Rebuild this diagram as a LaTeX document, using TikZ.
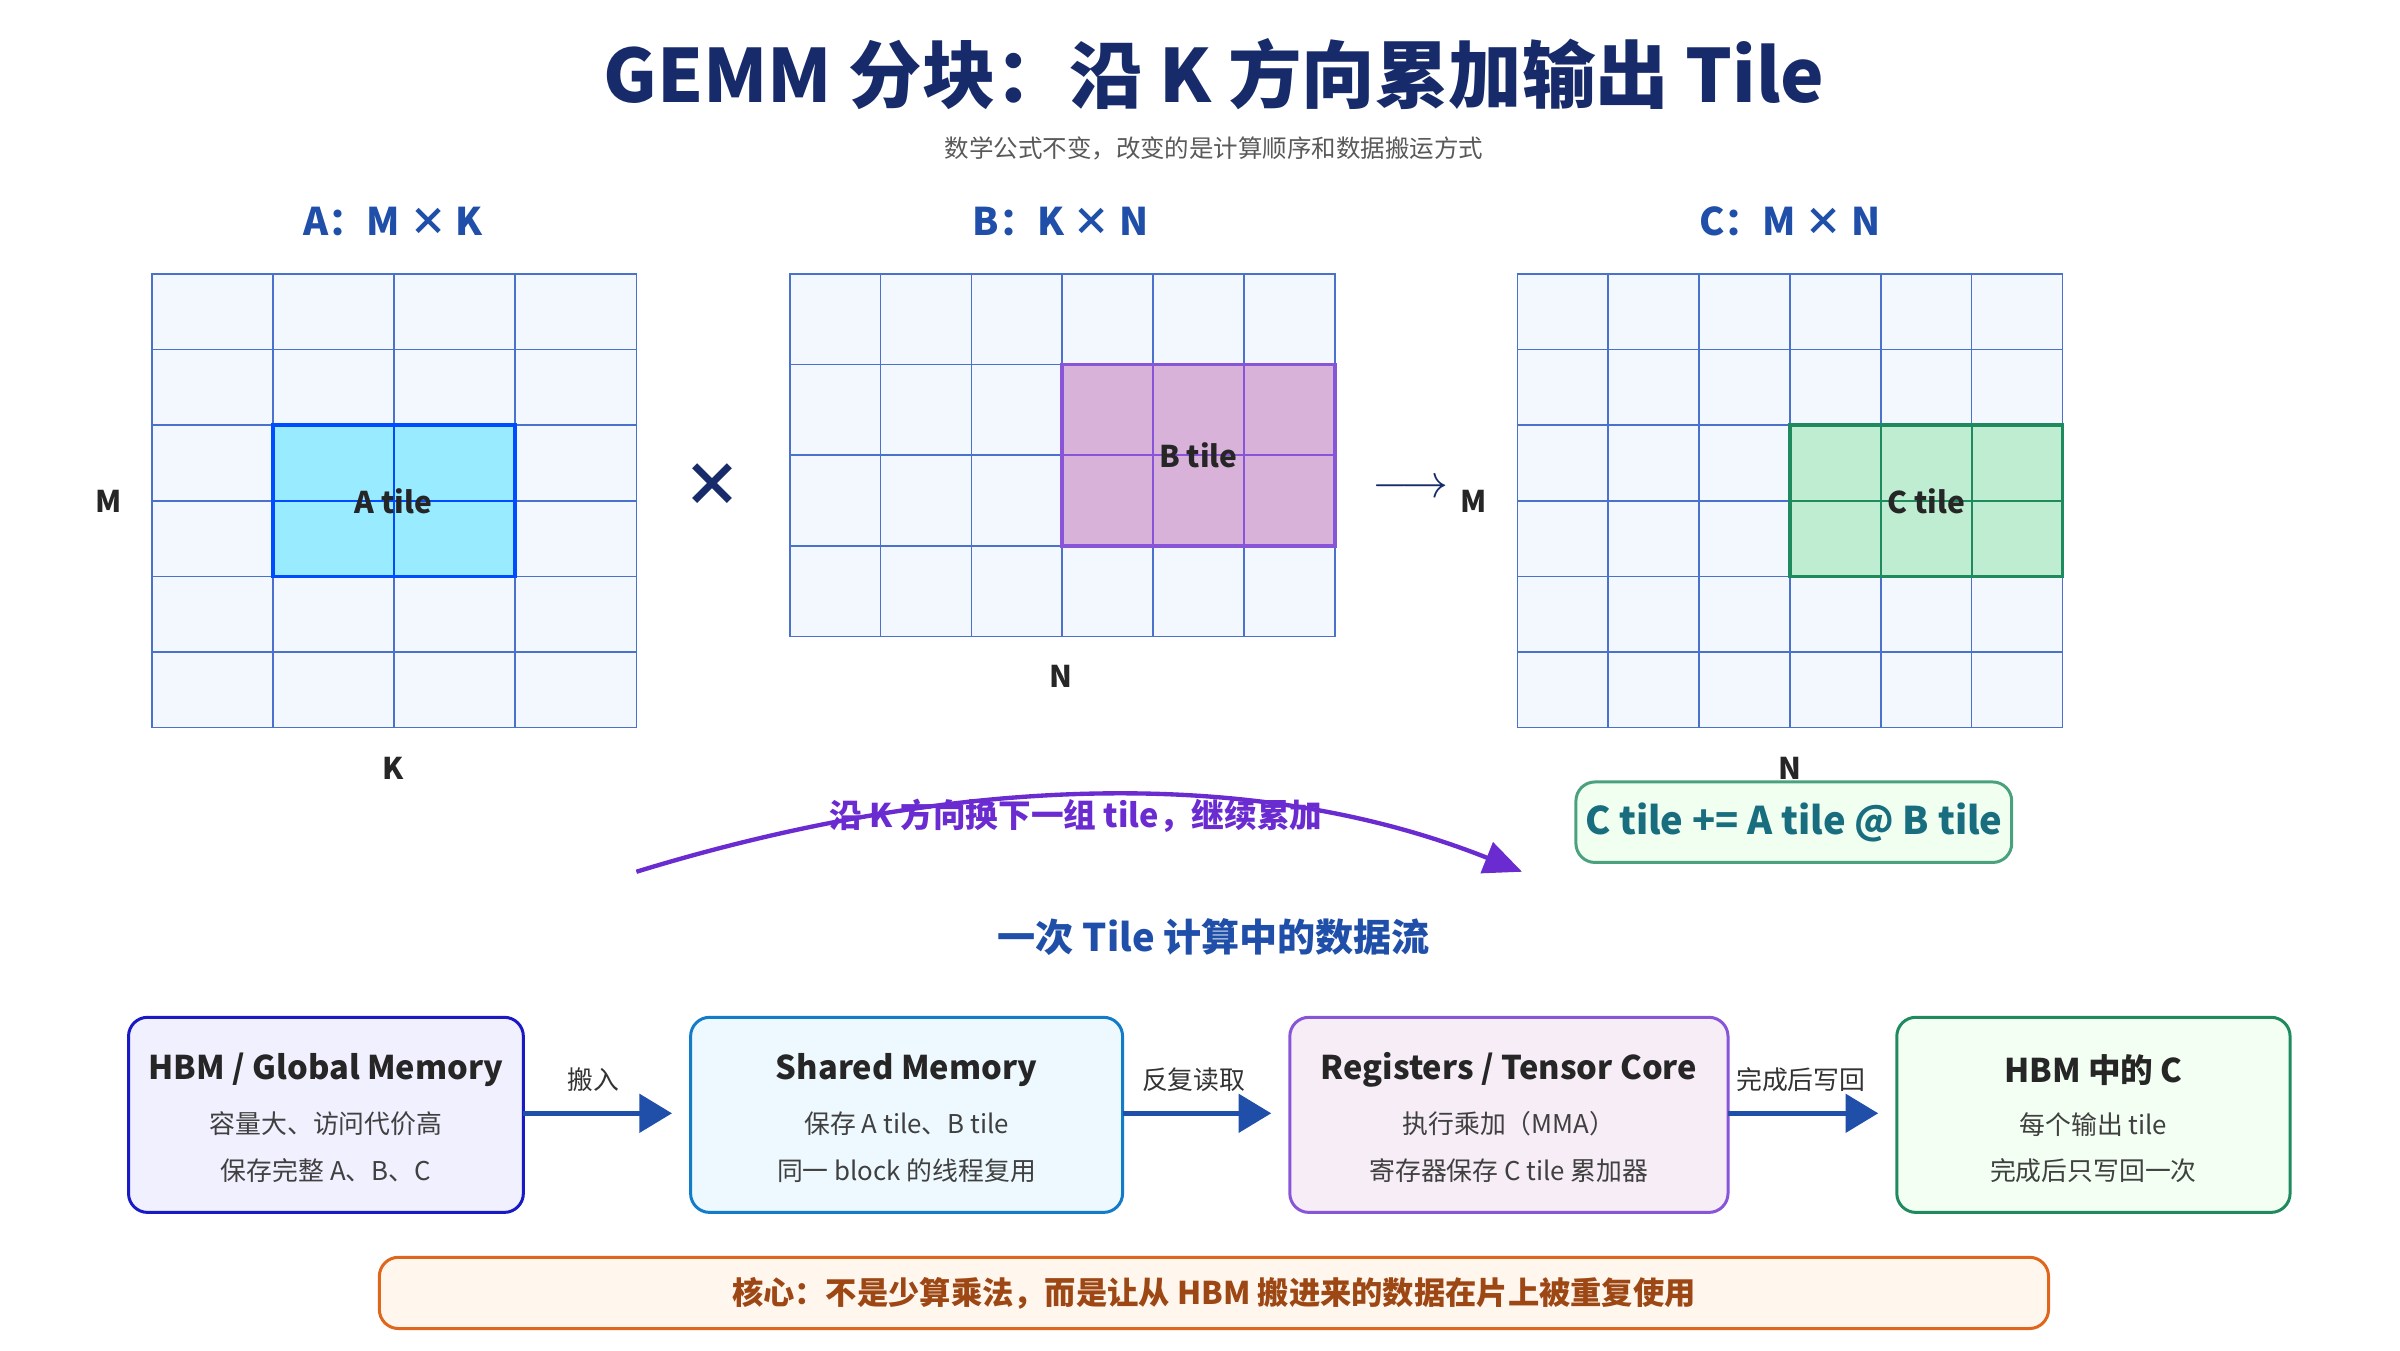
\documentclass[tikz,border=0pt]{standalone}
\usepackage{fontspec}
\setmainfont{Noto Sans CJK SC}
\usetikzlibrary{arrows.meta}
\definecolor{navy}{HTML}{172B6B}
\definecolor{gridblue}{HTML}{4A72CC}
\definecolor{cellfill}{HTML}{F3F7FE}
\definecolor{labblue}{HTML}{1F4FA8}
\definecolor{purp}{HTML}{6A2BD0}
\definecolor{greenD}{HTML}{1E8A5E}
\definecolor{orangeD}{HTML}{E0661C}

\begin{document}
\begin{tikzpicture}[x=0.02cm,y=-0.02cm,
  gridcell/.style={draw=gridblue, fill=cellfill, line width=0.6pt},
  axis/.style={font=\fontsize{11}{13}\selectfont\bfseries, text=black!85},
  mlabel/.style={font=\fontsize{14}{16}\selectfont\bfseries, text=labblue},
  flowbox/.style={rounded corners=7pt, line width=1.1pt},
  flowarrow/.style={draw=labblue, line width=1.8pt, -{Triangle[length=12pt,width=14pt]}},
  flowlabel/.style={font=\fontsize{9.5}{11}\selectfont, text=black!80},
  boxtitle/.style={font=\fontsize{12}{14}\selectfont\bfseries, text=black!85},
  boxtext/.style={font=\fontsize{9.5}{11}\selectfont, text=black!75}]
  \useasboundingbox (0,0) rectangle (1550,872);
  % title
  \node[font=\fontsize{27}{30}\selectfont\bfseries, text=navy] (title) at (784,48) {GEMM 分块：沿 K 方向累加输出 Tile};
  \node[font=\fontsize{9}{11}\selectfont, text=black!65] (subtitle) at (784,96) {数学公式不变，改变的是计算顺序和数据搬运方式};
  % matrix A
  \foreach \i in {0,...,3} \foreach \j in {0,...,5}
    \draw[gridcell] (98+\i*78.25,177+\j*48.8) rectangle ++(78.25,48.8);
  \draw[fill=blue!20!cyan!40, draw=blue!70!cyan, line width=1.3pt] (176.25,274.6) rectangle (332.75,372.2);
  \draw[draw=blue!70!cyan, line width=0.8pt] (254.5,274.6) -- (254.5,372.2) (176.25,323.4) -- (332.75,323.4);
  \node[axis] (atile) at (254,324) {A tile};
  \node[mlabel] (alab) at (254,143) {A：M × K};
  \node[axis] (am) at (70,324) {M};
  \node[axis] (ak) at (254,496) {K};
  \node[font=\fontsize{22}{24}\selectfont\bfseries, text=navy] (times) at (460,313) {×};
  % matrix B
  \foreach \i in {0,...,5} \foreach \j in {0,...,3}
    \draw[gridcell] (510+\i*58.67,177+\j*58.5) rectangle ++(58.67,58.5);
  \draw[fill=violet!30, draw=purp!80, line width=1.3pt] (686,235.5) rectangle (862,352.5);
  \draw[draw=purp!80, line width=0.8pt] (744.7,235.5) -- (744.7,352.5) (803.3,235.5) -- (803.3,352.5) (686,294) -- (862,294);
  \node[axis] (btile) at (774,294) {B tile};
  \node[mlabel] (blab) at (685,143) {B：K × N};
  \node[axis] (bn) at (685,437) {N};
  \node[font=\fontsize{18}{20}\selectfont, text=navy] (to) at (911,316) {$\longrightarrow$};
  \node[axis] (cm) at (952,324) {M};
  % matrix C
  \foreach \i in {0,...,5} \foreach \j in {0,...,5}
    \draw[gridcell] (980+\i*58.67,177+\j*48.8) rectangle ++(58.67,48.8);
  \draw[fill=green!45!teal!25, draw=greenD, line width=1.3pt] (1156,274.6) rectangle (1332,372.2);
  \draw[draw=greenD, line width=0.8pt] (1214.7,274.6) -- (1214.7,372.2) (1273.3,274.6) -- (1273.3,372.2) (1156,323.4) -- (1332,323.4);
  \node[axis] (ctile) at (1244,324) {C tile};
  \node[mlabel] (clab) at (1156,143) {C：M × N};
  \node[axis] (cn) at (1156,496) {N};
  % accumulate along K
  \coordinate (kfrom) at (411,563);
  \coordinate (kto) at (983,563);
  \draw[draw=purp, line width=1.6pt, -{Triangle[length=14pt,width=12pt]}] (kfrom) .. controls (600,505) and (800,490) .. (kto);
  \node[font=\fontsize{12}{14}\selectfont\bfseries, text=purp] (knote) at (695,527) {沿 K 方向换下一组 tile，继续累加};
  \node[draw=greenD!80, fill=green!6, rounded corners=7pt, line width=1.1pt, minimum width=279*0.02cm, minimum height=52*0.02cm,
    font=\fontsize{14}{16}\selectfont\bfseries, text=greenD!80!blue] (formula) at (1158.5,531) {C tile += A tile @ B tile};
  % data flow
  \node[font=\fontsize{14}{16}\selectfont\bfseries, text=labblue] (flowhead) at (784,605) {一次 Tile 计算中的数据流};
  \draw[flowbox, draw=blue!75!black!90, fill=blue!6] (83,657) rectangle (338,783);
  \node[boxtitle] (hbm) at (210.5,691) {HBM / Global Memory};
  \node[boxtext] at (210.5,726) {容量大、访问代价高};
  \node[boxtext] at (210.5,756) {保存完整 A、B、C};
  \draw[flowbox, draw=cyan!60!blue, fill=cyan!7] (446,657) rectangle (725,783);
  \node[boxtitle] (smem) at (585.5,691) {Shared Memory};
  \node[boxtext] at (585.5,726) {保存 A tile、B tile};
  \node[boxtext] at (585.5,756) {同一 block 的线程复用};
  \draw[flowbox, draw=purp!80, fill=violet!7] (833,657) rectangle (1116,783);
  \node[boxtitle] (regs) at (974.5,691) {Registers / Tensor Core};
  \node[boxtext] at (974.5,726) {执行乘加（MMA）};
  \node[boxtext] at (974.5,756) {寄存器保存 C tile 累加器};
  \draw[flowbox, draw=greenD, fill=green!5] (1225,657) rectangle (1479,783);
  \node[boxtitle] (hbmc) at (1352,691) {HBM 中的 C};
  \node[boxtext] at (1352,726) {每个输出 tile};
  \node[boxtext] at (1352,756) {完成后只写回一次};
  \coordinate (a1) at (338,719); \coordinate (b1) at (434,719);
  \coordinate (a2) at (725,719); \coordinate (b2) at (821,719);
  \coordinate (a3) at (1116,719); \coordinate (b3) at (1213,719);
  \draw[flowarrow] (a1) -- (b1);
  \draw[flowarrow] (a2) -- (b2);
  \draw[flowarrow] (a3) -- (b3);
  \node[flowlabel] at (383,697) {搬入};
  \node[flowlabel] at (771,697) {反复读取};
  \node[flowlabel] at (1163,697) {完成后写回};
  % key point
  \node[draw=orangeD, fill=orange!7, rounded corners=7pt, line width=1.1pt, minimum width=1078*0.02cm, minimum height=46*0.02cm,
    font=\fontsize{11.5}{13}\selectfont\bfseries, text=orangeD!70!black] (core) at (784,835) {核心：不是少算乘法，而是让从 HBM 搬进来的数据在片上被重复使用};
\end{tikzpicture}
\end{document}
